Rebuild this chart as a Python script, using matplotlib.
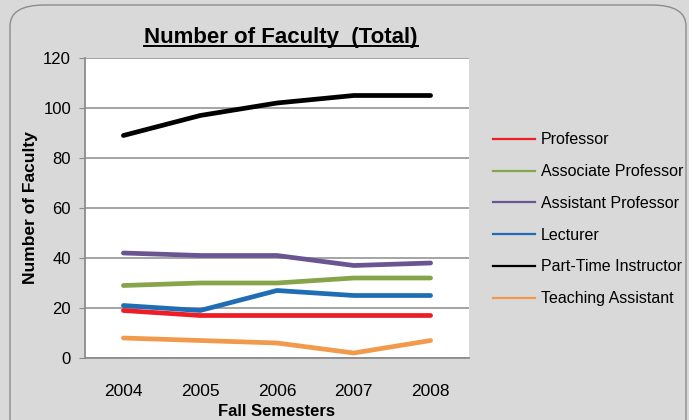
import matplotlib.pyplot as plt
from matplotlib.patches import FancyBboxPatch
from matplotlib.lines import Line2D

plt.rcParams['font.family'] = ['Liberation Sans', 'DejaVu Sans']

years = ['2004', '2005', '2006', '2007', '2008']
professor = [19, 17, 17, 17, 17]
associate = [29, 30, 30, 32, 32]
assistant = [42, 41, 41, 37, 38]
lecturer = [21, 19, 27, 25, 25]
part_time = [89, 97, 102, 105, 105]
teaching_asst = [8, 7, 6, 2, 7]

series = [
    ('Professor', professor, '#ee1c25'),
    ('Associate Professor', associate, '#86a44a'),
    ('Assistant Professor', assistant, '#6a5592'),
    ('Lecturer', lecturer, '#1f6db5'),
    ('Part-Time Instructor', part_time, '#000000'),
    ('Teaching Assistant', teaching_asst, '#f29a4b'),
]

fig = plt.figure(figsize=(6.89, 4.2), dpi=100)
fig.patch.set_facecolor('#d9d9d9')

# rounded chart border (runs off the bottom of the image)
border = FancyBboxPatch((10 / 689, -30 / 420), 676 / 689, 445 / 420,
                        boxstyle='round,pad=0,rounding_size=0.05',
                        transform=fig.transFigure, facecolor='#d9d9d9',
                        edgecolor='#8c8c8c', linewidth=1.0, zorder=-10)
fig.patches.append(border)

ax = fig.add_axes([85 / 689, (420 - 358) / 420, (469 - 85) / 689, 300 / 420])
ax.set_facecolor('white')

x = list(range(len(years)))
for name, vals, color in series:
    ax.plot(x, vals, color=color, linewidth=3.4, solid_capstyle='round',
            solid_joinstyle='round', label=name)

ax.set_xlim(-0.5, 4.5)
ax.set_ylim(0, 120)
ax.set_yticks(range(0, 121, 20))
ax.set_xticks(x)
ax.set_xticklabels(years)
ax.tick_params(axis='y', length=4, color='#8c8c8c', labelsize=12, pad=6)
ax.tick_params(axis='x', length=0, labelsize=12.5, pad=19)
ax.grid(axis='y', color='#8c8c8c', linewidth=1.1)
ax.set_axisbelow(True)
for s in ['top', 'right']:
    ax.spines[s].set_visible(False)
for s in ['left', 'bottom']:
    ax.spines[s].set_color('#8c8c8c')
    ax.spines[s].set_linewidth(1.3)

ax.set_xlabel('Fall Semesters', fontsize=12, fontweight='bold', labelpad=3)
ax.set_ylabel('Number of Faculty', fontsize=12.5, fontweight='bold', labelpad=4)

# underlined title
title = fig.text(281 / 689, 1 - 37 / 420, 'Number of Faculty  (Total)',
                 ha='center', va='center', fontsize=16, fontweight='bold')
fig.canvas.draw()
bb = title.get_window_extent().transformed(fig.transFigure.inverted())
fig.add_artist(Line2D([bb.x0, bb.x1], [bb.y0 + 0.004, bb.y0 + 0.004],
                      transform=fig.transFigure, color='black', linewidth=1.4))

handles = [Line2D([0], [0], color=c, linewidth=1.6) for _, _, c in series]
labels = [n for n, _, _ in series]
fig.legend(handles, labels, loc='upper left',
           bbox_to_anchor=(487 / 689, 1 - 126 / 420), frameon=False,
           fontsize=11.5, handlelength=2.6, handletextpad=0.35,
           labelspacing=1.05, borderaxespad=0)

plt.savefig('out.png', dpi=100, facecolor=fig.get_facecolor())
